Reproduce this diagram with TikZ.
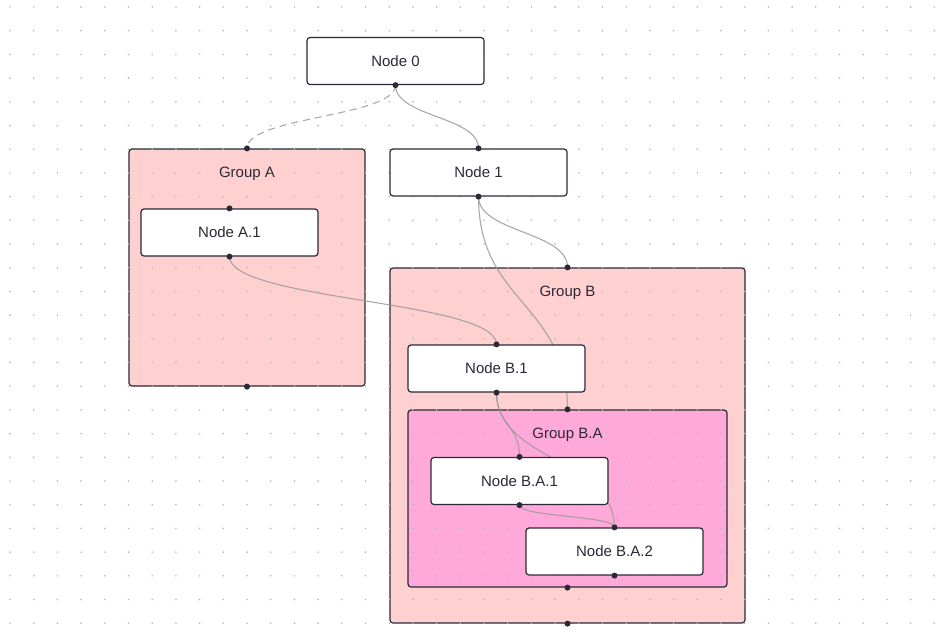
\documentclass[tikz,border=0pt]{standalone}
\usepackage{fontspec}
\setmainfont{Liberation Sans}
\usetikzlibrary{positioning}

\definecolor{groupfill}{HTML}{FFD0D0}
\definecolor{subgroupfill}{HTML}{FFA8DA}
\definecolor{edgecol}{HTML}{9A9A9A}
\definecolor{linecol}{HTML}{2A2A36}
\definecolor{dotcol}{HTML}{B8B8B8}

\pgfdeclarelayer{bg}
\pgfdeclarelayer{edgelayer}
\pgfsetlayers{bg,edgelayer,main}

\tikzset{
  box/.style={draw=linecol, line width=1.2pt, rounded corners=3pt, fill=white,
    minimum width=177pt, minimum height=47pt, inner sep=0pt,
    font=\fontsize{15}{18}\selectfont, text=linecol},
  group/.style={draw=linecol, line width=1.2pt, rounded corners=3pt,
    fill=groupfill, inner sep=0pt},
  grouplabel/.style={inner sep=0pt, font=\fontsize{15}{18}\selectfont, text=linecol},
  edge/.style={draw=edgecol, draw opacity=0.85, line width=1.1pt},
}

\begin{document}
\begin{tikzpicture}[x=1pt, y=-1pt]
\begin{pgfonlayer}{bg}
\fill[white] (0,0) rectangle (952,640);
\useasboundingbox (0,0) rectangle (952,640);
% groups
\node[group, minimum width=236pt, minimum height=237pt] (ga) at (247,267.5) {};
\node[group, minimum width=355pt, minimum height=355pt] (gb) at (567.5,445.5) {};
\node[group, fill=subgroupfill, minimum width=319pt, minimum height=177pt] (gba) at (567.5,498.5) {};
\node[grouplabel] (gaL) at ([yshift=-25.5pt]ga.north) {Group A};
\node[grouplabel] (gbL) at ([yshift=-25.5pt]gb.north) {Group B};
\node[grouplabel] (gbaL) at ([yshift=-25.5pt]gba.north) {Group B.A};
% dot grid
\foreach \i in {0,...,39}
  \foreach \j in {0,...,26}
    \fill[dotcol] ({10+23.7*\i},{7+23.7*\j}) circle (0.9pt);
\end{pgfonlayer}

\node[box] (n0) at (395.5,61) {Node 0};
\node[box] (n1) at (478.5,172.5) {Node 1};
\node[box] (na1) at (229.5,232.5) {Node A.1};
\node[box] (nb1) at (496.5,368.5) {Node B.1};
\node[box] (nba1) at (519.5,481) {Node B.A.1};
\node[box] (nba2) at (614.5,551.5) {Node B.A.2};

\begin{pgfonlayer}{edgelayer}
\draw[edge, dash pattern=on 7pt off 5pt] (n0.south) .. controls +(0,32) and +(0,-32) .. (ga.north);
\draw[edge] (n0.south) .. controls +(0,32) and +(0,-32) .. (n1.north);
\draw[edge] (n1.south) .. controls +(0,36) and +(0,-36) .. (gb.north);
\draw[edge] (n1.south) .. controls +(0,107) and +(0,-107) .. (gba.north);
\draw[edge] (na1.south) .. controls +(0,44) and +(0,-44) .. (nb1.north);
\draw[edge] (nb1.south) .. controls +(0,32) and +(0,-32) .. (nba1.north);
\draw[edge] (nb1.south) .. controls +(0,68) and +(0,-68) .. (nba2.north);
\draw[edge] (nba1.south) .. controls +(0,12) and +(0,-12) .. (nba2.north);
\end{pgfonlayer}

% handles
\foreach \h in {n0.south, n1.north, n1.south, na1.north, na1.south,
    nb1.north, nb1.south, nba1.north, nba1.south, nba2.north, nba2.south,
    ga.north, ga.south, gb.north, gb.south, gba.north, gba.south}
  \fill[linecol] (\h) circle (3pt);
\end{tikzpicture}
\end{document}
